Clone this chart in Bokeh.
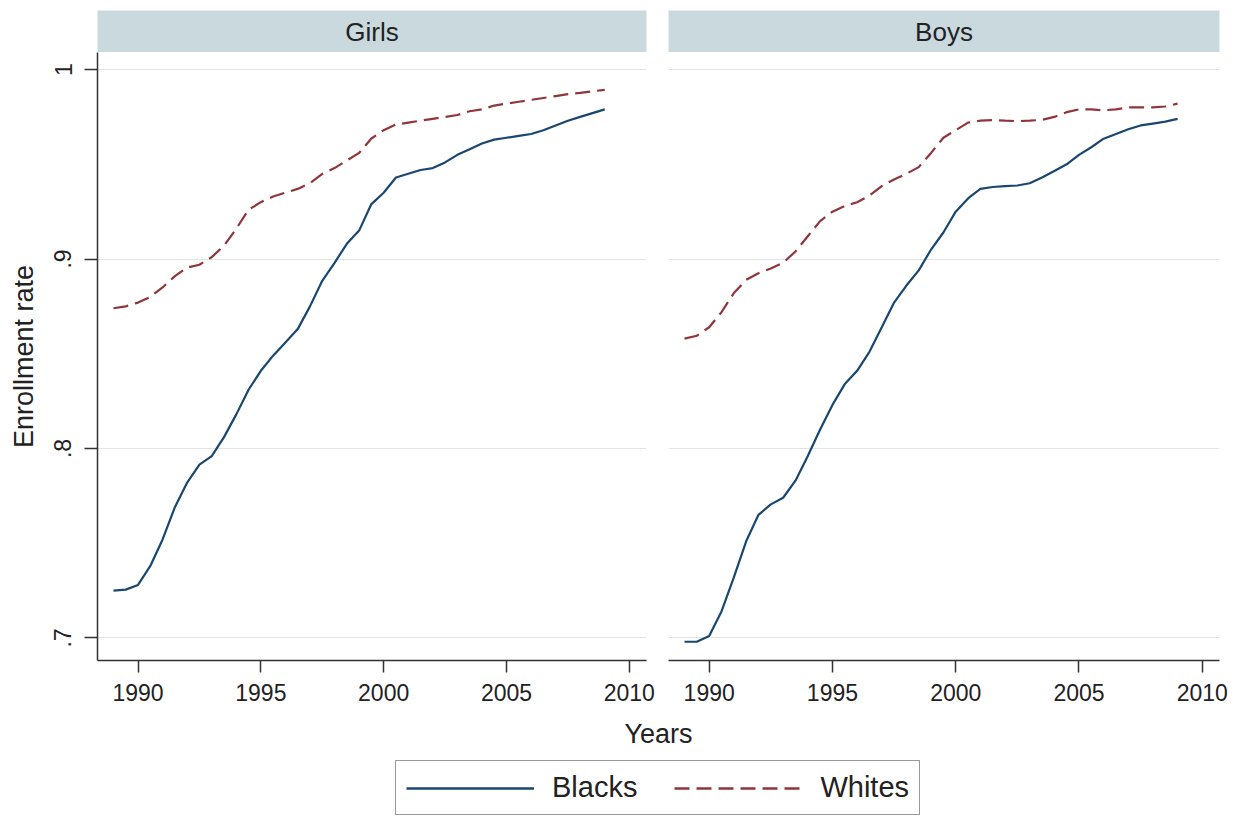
from bokeh.plotting import figure
from bokeh.layouts import column, row
from bokeh.models import Range1d, FixedTicker, Label, Legend, LegendItem
from bokeh.embed import file_html
from bokeh.resources import INLINE

# ---- data: school enrollment rate by year, race and sex ----
years = [1989.0, 1989.5, 1990.0, 1990.5, 1991.0, 1991.5, 1992.0, 1992.5,
         1993.0, 1993.5, 1994.0, 1994.5, 1995.0, 1995.5, 1996.0, 1996.5,
         1997.0, 1997.5, 1998.0, 1998.5, 1999.0, 1999.5, 2000.0, 2000.5,
         2001.0, 2001.5, 2002.0, 2002.5, 2003.0, 2003.5, 2004.0, 2004.5,
         2005.0, 2005.5, 2006.0, 2006.5, 2007.0, 2007.5, 2008.0, 2008.5,
         2009.0]

girls_blacks = [0.725, 0.7255, 0.728, 0.738, 0.752, 0.769, 0.782, 0.7915,
                0.796, 0.806, 0.818, 0.831, 0.841, 0.849, 0.856, 0.863,
                0.875, 0.8885, 0.898, 0.908, 0.915, 0.929, 0.935, 0.943,
                0.945, 0.947, 0.948, 0.951, 0.955, 0.958, 0.961, 0.963,
                0.964, 0.965, 0.966, 0.968, 0.9705, 0.973, 0.975, 0.977,
                0.979]
girls_whites = [0.874, 0.875, 0.877, 0.880, 0.885, 0.891, 0.8955, 0.897,
                0.901, 0.907, 0.916, 0.926, 0.930, 0.933, 0.935, 0.937,
                0.940, 0.945, 0.948, 0.952, 0.956, 0.9636, 0.968, 0.971,
                0.972, 0.973, 0.974, 0.975, 0.976, 0.978, 0.979, 0.981,
                0.982, 0.983, 0.984, 0.985, 0.986, 0.987, 0.9877, 0.9885,
                0.9893]
boys_blacks = [0.698, 0.698, 0.701, 0.714, 0.732, 0.751, 0.765, 0.7705,
               0.774, 0.783, 0.796, 0.810, 0.823, 0.834, 0.841, 0.851,
               0.864, 0.877, 0.886, 0.894, 0.905, 0.914, 0.925, 0.932,
               0.937, 0.938, 0.9385, 0.9388, 0.940, 0.943, 0.9465, 0.950,
               0.955, 0.959, 0.9635, 0.966, 0.9685, 0.9705, 0.9715, 0.9725,
               0.974]
boys_whites = [0.858, 0.8595, 0.864, 0.872, 0.882, 0.889, 0.8925, 0.895,
               0.898, 0.904, 0.912, 0.920, 0.925, 0.928, 0.930, 0.9335,
               0.9385, 0.942, 0.945, 0.9485, 0.956, 0.964, 0.968, 0.972,
               0.973, 0.9733, 0.973, 0.9728, 0.973, 0.9735, 0.975, 0.9775,
               0.979, 0.979, 0.9785, 0.979, 0.980, 0.980, 0.980, 0.9805,
               0.982]

panel_titles = ["Girls", "Boys"]
series_names = ["Blacks", "Whites"]
x_ticks = [1990, 1995, 2000, 2005, 2010]
y_ticks = [0.7, 0.8, 0.9, 1]
y_tick_labels = {0.7: ".7", 0.8: ".8", 0.9: ".9", 1: "1"}

# ---- style ----
FONT = "Liberation Sans"
TEXT = "#222222"
NAVY = "#1a476f"
MAROON = "#90353b"
STRIP = "#cad9de"
GRID = "#e3e3e3"
AXIS = "#333333"
DASH = "15 7"

X_RANGE = (1988.35, 2010.7)
Y_RANGE = (0.6881, 1.009)


def strip(title, width, left, right):
    s = figure(width=width, height=52, x_range=Range1d(0, 1), y_range=Range1d(0, 1),
               output_backend="svg", toolbar_location=None,
               x_axis_location=None, y_axis_location=None,
               min_border_left=left, min_border_right=right,
               min_border_top=10, min_border_bottom=0)
    s.grid.visible = False
    s.outline_line_color = None
    s.background_fill_color = STRIP
    s.add_layout(Label(x=0.5, y=0.5, text=title, text_align="center",
                       text_baseline="middle", text_font=FONT,
                       text_font_size="26px", text_color=TEXT))
    return s


def panel(blacks, whites, width, left, right, with_y_axis):
    p = figure(width=width, height=660,
               x_range=Range1d(*X_RANGE), y_range=Range1d(*Y_RANGE),
               output_backend="svg", toolbar_location=None,
               y_axis_location="left" if with_y_axis else None,
               min_border_left=left, min_border_right=right,
               min_border_top=0, min_border_bottom=52)
    p.outline_line_color = None
    p.background_fill_color = "white"
    p.border_fill_color = "white"

    p.xgrid.visible = False
    p.ygrid.ticker = FixedTicker(ticks=y_ticks)
    p.ygrid.grid_line_color = GRID
    p.ygrid.grid_line_width = 1.2

    p.line(years, blacks, line_color=NAVY, line_width=2.2)
    p.line(years, whites, line_color=MAROON, line_width=2.2, line_dash=DASH)

    xa = p.xaxis[0]
    xa.ticker = FixedTicker(ticks=x_ticks)
    xa.axis_line_color = AXIS
    xa.axis_line_width = 1.5
    xa.major_tick_line_color = AXIS
    xa.major_tick_line_width = 1.5
    xa.major_tick_out = 12
    xa.major_tick_in = 0
    xa.minor_tick_out = 0
    xa.minor_tick_in = 0
    xa.major_label_standoff = 11
    xa.major_label_text_font = FONT
    xa.major_label_text_font_size = "23px"
    xa.major_label_text_color = TEXT

    if with_y_axis:
        ya = p.yaxis[0]
        ya.ticker = FixedTicker(ticks=y_ticks)
        ya.major_label_overrides = y_tick_labels
        ya.major_label_orientation = "vertical"
        ya.axis_line_color = AXIS
        ya.axis_line_width = 1.5
        ya.major_tick_line_color = AXIS
        ya.major_tick_line_width = 1.5
        ya.major_tick_out = 13
        ya.major_tick_in = 0
        ya.minor_tick_out = 0
        ya.minor_tick_in = 0
        ya.major_label_standoff = 13
        ya.major_label_text_font = FONT
        ya.major_label_text_font_size = "23px"
        ya.major_label_text_color = TEXT
        ya.axis_label = "Enrollment rate"
        ya.axis_label_standoff = 13
        ya.axis_label_text_font = FONT
        ya.axis_label_text_font_style = "normal"
        ya.axis_label_text_font_size = "27px"
        ya.axis_label_text_color = TEXT
    return p


s_girls = strip(panel_titles[0], 657, 97, 11)
s_boys = strip(panel_titles[1], 586, 11, 24)
p_girls = panel(girls_blacks, girls_whites, 657, 97, 11, True)
p_boys = panel(boys_blacks, boys_whites, 586, 11, 24, False)

# bottom band: shared x-axis title and the legend
lg = figure(width=1243, height=105, x_range=Range1d(0, 1), y_range=Range1d(0, 1),
            output_backend="svg", toolbar_location=None,
            x_axis_location=None, y_axis_location=None,
            min_border_left=0, min_border_right=0, min_border_top=0, min_border_bottom=0)
lg.grid.visible = False
lg.outline_line_color = None
lg.add_layout(Label(x=658, y=84, x_units="screen", y_units="screen", text="Years",
                    text_align="center", text_baseline="middle", text_font=FONT,
                    text_font_size="27px", text_color=TEXT))
# legend keys: the series themselves, which fall outside this band's 0..1 view
r_b = lg.line(years, girls_blacks, line_color=NAVY, line_width=2.5)
r_w = lg.line(years, girls_whites, line_color=MAROON, line_width=2.5, line_dash=DASH)
legend = Legend(items=[LegendItem(label=series_names[0], renderers=[r_b]),
                       LegendItem(label=series_names[1], renderers=[r_w])],
                orientation="horizontal", location=(395, 2), margin=0,
                padding=10, spacing=37, glyph_width=128, glyph_height=24,
                label_standoff=18, label_text_font=FONT, label_text_font_size="29px",
                label_text_color=TEXT, label_text_baseline="middle",
                border_line_color=AXIS, border_line_width=1.5,
                background_fill_color="white", background_fill_alpha=1.0)
lg.add_layout(legend, "center")

layout = column(row(s_girls, s_boys), row(p_girls, p_boys), lg)

open("out.html", "w").write(file_html(layout, INLINE))
